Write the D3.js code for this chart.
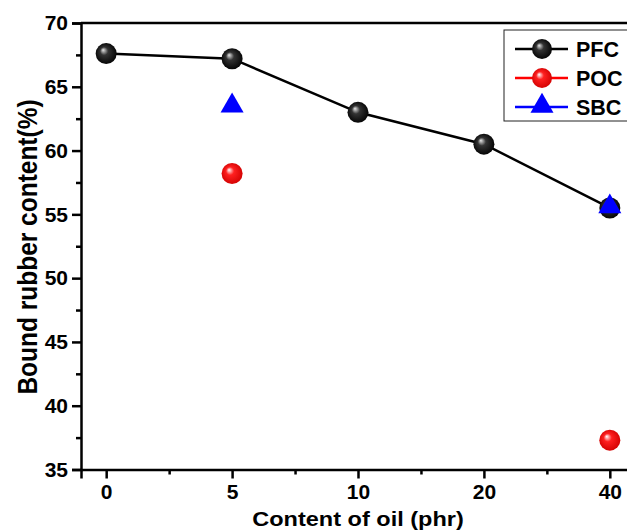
<!DOCTYPE html>
<html><head><meta charset="utf-8">
<script src="https://cdn.jsdelivr.net/npm/d3@7"></script>
<style>body{margin:0;background:#fff}svg{display:block;font-family:"Liberation Sans",Arial,sans-serif;font-weight:bold}</style>
</head><body><div id="c"></div>
<script>
const categories = ["0","5","10","20","40"];
const pfc = [67.6, 67.2, 63.0, 60.5, 55.5];
const poc = [null, 58.2, null, null, 37.3];
const sbc = [null, 63.5, null, null, 55.6];
const yTicks = [35,40,45,50,55,60,65,70];
const seriesNames = ["PFC","POC","SBC"];

const W=627,H=531;
const svg=d3.select("#c").append("svg").attr("width",W).attr("height",H);
const defs=svg.append("defs");
function grad(id, hi, mid, edge){
  const g=defs.append("radialGradient").attr("id",id).attr("cx","50%").attr("cy","50%").attr("r","55%").attr("fx","35%").attr("fy","32%");
  g.append("stop").attr("offset","0%").attr("stop-color",hi);
  g.append("stop").attr("offset","35%").attr("stop-color",mid);
  g.append("stop").attr("offset","100%").attr("stop-color",edge);
}
grad("gBlack","#e8e8e8","#333","#000");
grad("gRed","#ffffff","#ff2020","#d00000");

const x=d3.scaleLinear().domain([-0.2,4.2]).range([81,635]);
const y=d3.scaleLinear().domain([35,70]).range([469.5,23]);

// axes
const gx=svg.append("g").attr("transform","translate(0,469.5)");
gx.call(d3.axisBottom(x).tickValues(d3.range(5)).tickFormat(i=>categories[i]).tickSize(9).tickPadding(6));
const gxm=svg.append("g").attr("transform","translate(0,469.5)");
gxm.call(d3.axisBottom(x).tickValues([0.5,1.5,2.5,3.5]).tickFormat("").tickSize(5));
gxm.select(".domain").remove();
const gy=svg.append("g").attr("transform","translate(81,0)");
gy.call(d3.axisLeft(y).tickValues(yTicks).tickSize(9).tickPadding(4));
const gym=svg.append("g").attr("transform","translate(81,0)");
gym.call(d3.axisLeft(y).tickValues(d3.range(37.5,70,5)).tickFormat("").tickSize(5));
gym.select(".domain").remove();
svg.selectAll(".domain").attr("stroke","#000").attr("stroke-width",2.5);
svg.selectAll(".tick line").attr("stroke","#000").attr("stroke-width",2.5);
svg.selectAll(".tick text").attr("font-size",21).attr("font-family","Liberation Sans, Arial, sans-serif").attr("font-weight","bold").attr("fill","#000");
gx.selectAll(".tick text").attr("dy","0.71em");
// top frame
svg.append("line").attr("x1",81).attr("x2",W).attr("y1",23).attr("y2",23).attr("stroke","#000").attr("stroke-width",2.5);

// titles
svg.append("text").attr("transform","translate(358,526) scale(1.12,1)").attr("text-anchor","middle").attr("font-size",21).text("Content of oil (phr)");
svg.append("text").attr("transform","translate(37,247) rotate(-90) scale(1,1.12)").attr("text-anchor","middle").attr("font-size",24.5).text("Bound rubber content(%)");

// PFC line
const line=d3.line().defined(d=>d!=null).x((d,i)=>x(i)).y(d=>y(d));
svg.append("path").datum(pfc).attr("d",line).attr("fill","none").attr("stroke","#000").attr("stroke-width",2.5);

function sphere(g,cx,cy,id,r){
  g.append("circle").attr("cx",cx).attr("cy",cy).attr("r",r).attr("fill",`url(#${id})`);
}
function tri(g,cx,cy,s,color){
  g.append("path").attr("d",d3.symbol(d3.symbolTriangle,s)()).attr("transform",`translate(${cx},${cy})`).attr("fill",color);
}
const pts=svg.append("g");
pfc.forEach((v,i)=>{ if(v!=null) sphere(pts,x(i),y(v),"gBlack",10.5); });
poc.forEach((v,i)=>{ if(v!=null) sphere(pts,x(i),y(v),"gRed",10.5); });
sbc.forEach((v,i)=>{ if(v!=null) tri(pts,x(i),y(v),230,"#0000ff"); });

// legend
const lg=svg.append("g");
lg.append("rect").attr("x",504).attr("y",30).attr("width",140).attr("height",91).attr("fill","#fff").attr("stroke","#222").attr("stroke-width",1);
const lcol=["#000","#ff0000","#0000ff"];
seriesNames.forEach((n,k)=>{
  const ly=49+k*29;
  lg.append("line").attr("x1",515).attr("x2",568).attr("y1",ly).attr("y2",ly).attr("stroke",lcol[k]).attr("stroke-width",2.5);
  if(k===0) sphere(lg,542,ly,"gBlack",10);
  else if(k===1) sphere(lg,542,ly,"gRed",10);
  else tri(lg,542,ly-1,230,"#0000ff");
  lg.append("text").attr("x",576).attr("y",ly+7.5).attr("font-size",21.5).text(n);
});
</script></body></html>
